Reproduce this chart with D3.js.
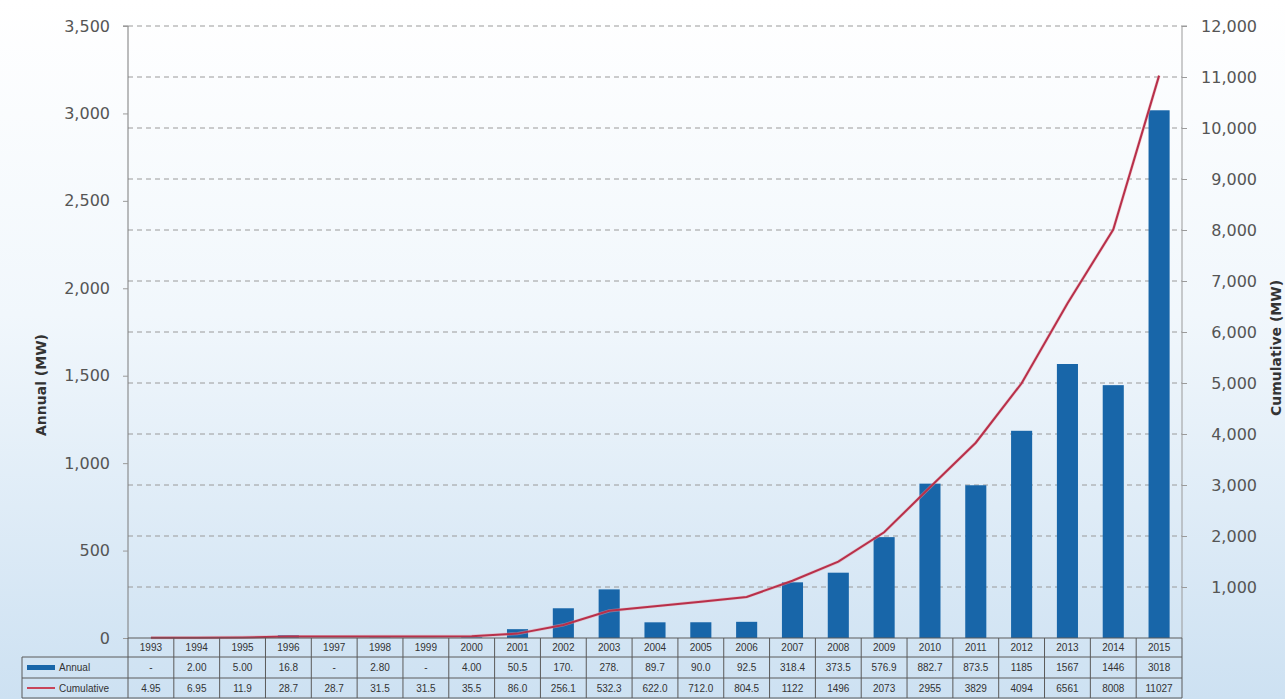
<!DOCTYPE html>
<html>
<head>
<meta charset="utf-8">
<script src="https://cdn.jsdelivr.net/npm/d3@7"></script>
<style>
  html, body { margin: 0; padding: 0; }
  body { width: 1285px; height: 699px; overflow: hidden; }
</style>
</head>
<body>
<svg id="chart" width="1285" height="699"></svg>
<script>
// ---------- DATA ----------
const years = ["1993","1994","1995","1996","1997","1998","1999","2000","2001","2002","2003","2004","2005","2006","2007","2008","2009","2010","2011","2012","2013","2014","2015"];
const annual = [0, 2.00, 5.00, 16.8, 0, 2.80, 0, 4.00, 50.5, 170, 278, 89.7, 90.0, 92.5, 318.4, 373.5, 576.9, 882.7, 873.5, 1185, 1567, 1446, 3018];
const cumulative = [4.95, 6.95, 11.9, 28.7, 28.7, 31.5, 31.5, 35.5, 86.0, 256.1, 532.3, 622.0, 712.0, 804.5, 1122, 1496, 2073, 2955, 3829, 4994, 6561, 8008, 11027];
const annualLabels = ["-","2.00","5.00","16.8","-","2.80","-","4.00","50.5","170.","278.","89.7","90.0","92.5","318.4","373.5","576.9","882.7","873.5","1185","1567","1446","3018"];
const cumulativeLabels = ["4.95","6.95","11.9","28.7","28.7","31.5","31.5","35.5","86.0","256.1","532.3","622.0","712.0","804.5","1122","1496","2073","2955","3829","4094","6561","8008","11027"];
const leftTicks = [0, 500, 1000, 1500, 2000, 2500, 3000, 3500];
const rightTicks = [1000, 2000, 3000, 4000, 5000, 6000, 7000, 8000, 9000, 10000, 11000, 12000];
const seriesNames = ["Annual", "Cumulative"];

// ---------- LAYOUT ----------
const W = 1285, H = 699;
const L = 128, R = 1182, T = 26, B = 638;
const rowTop = [638, 657, 678, 698];
const tableLeft = 22;
const barColor = "#1866a9", lineColor = "#b8304a", gridColor = "#9a9a9a", borderColor = "#5a5a5a";

const svg = d3.select("#chart");
const defs = svg.append("defs");
const grad = defs.append("linearGradient").attr("id", "bg").attr("x1", 0).attr("y1", 0).attr("x2", 0).attr("y2", 1);
grad.append("stop").attr("offset", "0%").attr("stop-color", "#ffffff");
grad.append("stop").attr("offset", "45%").attr("stop-color", "#f1f7fc");
grad.append("stop").attr("offset", "100%").attr("stop-color", "#cde1f2");
svg.append("rect").attr("width", W).attr("height", H).attr("fill", "url(#bg)");

const x = d3.scaleBand().domain(years).range([L, R]).padding(0);
const yL = d3.scaleLinear().domain([0, 3500]).range([B, T]);
const yR = d3.scaleLinear().domain([0, 12000]).range([B, T]);
const fmt = d3.format(",");

// gridlines (right-axis ticks)
svg.append("g").selectAll("line").data(rightTicks).join("line")
  .attr("x1", L).attr("x2", R)
  .attr("y1", d => yR(d)).attr("y2", d => yR(d))
  .attr("stroke", gridColor).attr("stroke-width", 1).attr("stroke-dasharray", "5,4");

// left axis
const axL = svg.append("g").attr("transform", `translate(${L},0)`)
  .call(d3.axisLeft(yL).tickValues(leftTicks).tickFormat(fmt).tickSize(5).tickPadding(13));
axL.select(".domain").attr("stroke", "#7a7a7a").attr("d", `M-5,${T}H0V${B}`);
axL.selectAll(".tick line").attr("stroke", "#9a9a9a");
axL.selectAll(".tick text").attr("fill", "#555").style("font-family", "DejaVu Sans, sans-serif").style("font-size", "16px");

// right axis
const axR = svg.append("g").attr("transform", `translate(${R},0)`)
  .call(d3.axisRight(yR).tickValues(rightTicks).tickFormat(fmt).tickSize(5).tickPadding(13));
axR.select(".domain").attr("stroke", "#9a9a9a").attr("d", `M5,${T}H0V${B}`);
axR.selectAll(".tick line").attr("stroke", "#9a9a9a");
axR.selectAll(".tick text").attr("fill", "#555").attr("text-anchor", "end").attr("x", 75)
  .style("font-family", "DejaVu Sans, sans-serif").style("font-size", "16px");

// axis titles
svg.append("text").attr("transform", `translate(46,385) rotate(-90)`)
  .attr("text-anchor", "middle").attr("fill", "#333")
  .style("font-family", "DejaVu Sans, sans-serif").style("font-weight", "bold").style("font-size", "14px")
  .text("Annual (MW)");
svg.append("text").attr("transform", `translate(1281,348) rotate(-90)`)
  .attr("text-anchor", "middle").attr("fill", "#333")
  .style("font-family", "DejaVu Sans, sans-serif").style("font-weight", "bold").style("font-size", "14px")
  .text("Cumulative (MW)");

// bars
const bw = x.bandwidth() * 0.46;
svg.append("g").selectAll("rect").data(years).join("rect")
  .attr("x", (d) => x(d) + (x.bandwidth() - bw) / 2)
  .attr("width", bw)
  .attr("y", (d, i) => yL(annual[i]))
  .attr("height", (d, i) => B - yL(annual[i]))
  .attr("fill", barColor);

// cumulative line
const line = d3.line().x((d, i) => x(years[i]) + x.bandwidth() / 2).y(d => yR(d));
svg.append("path").datum(cumulative).attr("d", line)
  .attr("fill", "none").attr("stroke", "#e8a0aa").attr("stroke-width", 3.2).attr("stroke-opacity", 0.5);
svg.append("path").datum(cumulative).attr("d", line)
  .attr("fill", "none").attr("stroke", lineColor).attr("stroke-width", 2);

// baseline
svg.append("line").attr("x1", L).attr("x2", R).attr("y1", B).attr("y2", B).attr("stroke", borderColor);

// ---------- DATA TABLE ----------
const tg = svg.append("g");
// horizontal borders
[657, 678, 698].forEach(yy => {
  tg.append("line").attr("x1", tableLeft).attr("x2", R).attr("y1", yy).attr("y2", yy).attr("stroke", borderColor);
});
// vertical borders
tg.append("line").attr("x1", tableLeft).attr("x2", tableLeft).attr("y1", 657).attr("y2", 698).attr("stroke", borderColor);
tg.selectAll("line.v").data(years).join("line").attr("class", "v")
  .attr("x1", d => x(d)).attr("x2", d => x(d)).attr("y1", B).attr("y2", 698).attr("stroke", borderColor);
tg.append("line").attr("x1", R).attr("x2", R).attr("y1", B).attr("y2", 698).attr("stroke", borderColor);

const cellFont = (sel) => sel.attr("fill", "#333").attr("text-anchor", "middle")
  .style("font-family", "Liberation Sans, Arial, sans-serif").style("font-size", "10px");

tg.selectAll("text.yr").data(years).join("text").attr("class", "yr")
  .attr("x", d => x(d) + x.bandwidth() / 2).attr("y", 651).text(d => d).call(cellFont);
tg.selectAll("text.an").data(annualLabels).join("text").attr("class", "an")
  .attr("x", (d, i) => x(years[i]) + x.bandwidth() / 2).attr("y", 671).text(d => d).call(cellFont);
tg.selectAll("text.cu").data(cumulativeLabels).join("text").attr("class", "cu")
  .attr("x", (d, i) => x(years[i]) + x.bandwidth() / 2).attr("y", 692).text(d => d).call(cellFont);

// legend keys
tg.append("rect").attr("x", 27).attr("y", 665).attr("width", 28).attr("height", 5).attr("fill", barColor);
tg.append("line").attr("x1", 27).attr("x2", 55).attr("y1", 688).attr("y2", 688).attr("stroke", "#c8455a").attr("stroke-width", 2);
tg.append("text").attr("x", 59).attr("y", 671).text(seriesNames[0])
  .attr("fill", "#333").style("font-family", "Liberation Sans, Arial, sans-serif").style("font-size", "10px");
tg.append("text").attr("x", 59).attr("y", 692).text(seriesNames[1])
  .attr("fill", "#333").style("font-family", "Liberation Sans, Arial, sans-serif").style("font-size", "10px");
</script>
</body>
</html>
